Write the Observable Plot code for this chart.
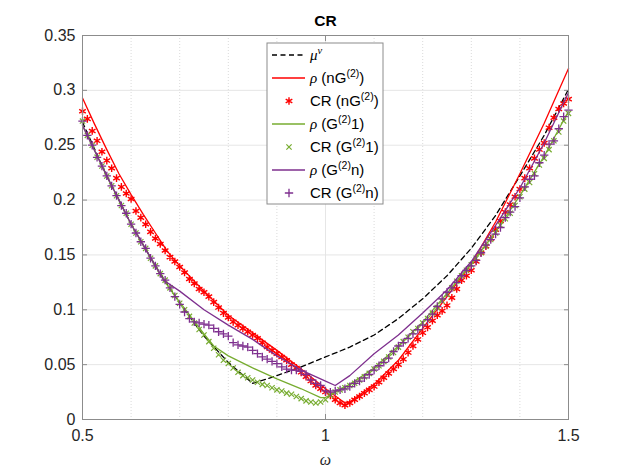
<!DOCTYPE html>
<html><head><meta charset="utf-8">
<script src="https://cdn.jsdelivr.net/npm/d3@7"></script>
<script src="https://cdn.jsdelivr.net/npm/@observablehq/plot@0.6"></script>
<style>
body{margin:0;background:#fff;}
#chart{position:relative;width:628px;height:471px;}
</style></head><body><div id="chart"></div>
<script>
// ---- data ----
const omega = [0.50,0.51,0.52,0.53,0.54,0.55,0.56,0.57,0.58,0.59,
0.60,0.61,0.62,0.63,0.64,0.65,0.66,0.67,0.68,0.69,
0.70,0.71,0.72,0.73,0.74,0.75,0.76,0.77,0.78,0.79,
0.80,0.81,0.82,0.83,0.84,0.85,0.86,0.87,0.88,0.89,
0.90,0.91,0.92,0.93,0.94,0.95,0.96,0.97,0.98,0.99,
1.00,1.01,1.02,1.03,1.04,1.05,1.06,1.07,1.08,1.09,
1.10,1.11,1.12,1.13,1.14,1.15,1.16,1.17,1.18,1.19,
1.20,1.21,1.22,1.23,1.24,1.25,1.26,1.27,1.28,1.29,
1.30,1.31,1.32,1.33,1.34,1.35,1.36,1.37,1.38,1.39,
1.40,1.41,1.42,1.43,1.44,1.45,1.46,1.47,1.48,1.49,1.50];

const crNG2 = [.281,.274,.263,.254,.244,.236,.229,.220,.212,.206,
.201,.190,.184,.178,.171,.165,.160,.154,.148,.144,
.139,.134,.128,.124,.119,.116,.112,.107,.102,.097,
.093,.089,.086,.083,.080,.077,.074,.070,.066,.063,
.060,.057,.054,.050,.047,.043,.039,.035,.031,.028,
.025,.022,.018,.015,.013,.015,.018,.021,.024,.027,
.030,.034,.038,.042,.046,.050,.055,.061,.067,.073,
.079,.084,.090,.095,.099,.104,.111,.119,.127,.131,
.136,.144,.152,.158,.165,.173,.181,.189,.196,.203,
.210,.220,.229,.238,.246,.252,.266,.275,.283,.288,.292];

const crG21 = [.272,.259,.250,.239,.231,.222,.213,.204,.195,.188,
.178,.170,.162,.156,.147,.140,.133,.127,.120,.113,
.106,.100,.094,.088,.082,.077,.071,.065,.059,.054,
.051,.047,.043,.040,.038,.036,.034,.032,.031,.029,
.027,.026,.024,.023,.021,.019,.017,.016,.015,.016,
.018,.022,.025,.027,.029,.031,.033,.036,.039,.042,
.046,.049,.053,.057,.061,.066,.071,.075,.080,.083,
.088,.092,.097,.102,.108,.114,.120,.126,.131,.136,
.141,.147,.152,.158,.164,.170,.177,.183,.188,.195,
.203,.210,.216,.224,.232,.238,.246,.254,.262,.272,.279];

const crG2n = [.272,.259,.250,.239,.231,.222,.213,.204,.195,.188,
.178,.170,.162,.156,.147,.140,.133,.127,.120,.112,
.105,.098,.092,.089,.088,.087,.086,.083,.080,.078,
.076,.070,.068,.067,.066,.063,.060,.057,.055,.053,
.051,.048,.046,.045,.045,.044,.041,.036,.033,.031,
.026,.025,.026,.027,.028,.030,.033,.035,.038,.041,
.045,.049,.052,.056,.062,.067,.070,.074,.078,.082,
.086,.091,.096,.103,.110,.116,.120,.125,.131,.136,
.140,.145,.152,.159,.164,.169,.175,.184,.189,.194,
.202,.212,.219,.222,.234,.241,.251,.254,.265,.276,.282];

const muX = [0.5,0.55,0.6,0.65,0.7,0.75,0.8,0.85,0.88,0.9,0.95,1.0,1.05,1.1,1.15,1.2,1.25,1.3,1.35,1.4,1.45,1.5];
const muNu = [.271,.222,.178,.140,.106,.076,.052,.033,.037,.040,.048,.057,.066,.077,.092,.110,.131,.156,.186,.222,.259,.301];

const rhoNG2X = [0.5,0.525,0.55,0.575,0.6,0.625,0.65,0.675,0.7,0.75,0.8,0.85,0.9,0.95,1.0,1.04,1.05,1.1,1.15,1.2,1.25,1.3,1.35,1.4,1.45,1.5];
const rhoNG2 = [.293,.269,.246,.224,.205,.187,.170,.153,.140,.117,.095,.079,.063,.046,.028,.015,.016,.032,.054,.083,.112,.142,.180,.224,.270,.320];

const rhoG21X = [0.5,0.55,0.6,0.667,0.7,0.75,0.77,0.8,0.85,0.9,0.95,0.99,1.0,1.02,1.05,1.1,1.15,1.2,1.25,1.3,1.35,1.4,1.45,1.5];
const rhoG21 = [.268,.222,.178,.127,.107,.078,.067,.058,.047,.037,.028,.020,.020,.025,.032,.047,.067,.089,.115,.142,.171,.204,.240,.281];

const rhoG2nX = [0.5,0.55,0.6,0.667,0.7,0.75,0.8,0.85,0.9,0.95,1.0,1.02,1.05,1.1,1.15,1.2,1.25,1.3,1.35,1.4,1.45,1.5];
const rhoG2n = [.268,.222,.178,.127,.117,.100,.086,.073,.058,.045,.035,.031,.040,.060,.077,.097,.118,.144,.177,.211,.252,.298];

const xTicks = [0.5, 1, 1.5];
const xMinor = [0.6,0.7,0.8,0.9,1.1,1.2,1.3,1.4];
const yTicks = [0,0.05,0.1,0.15,0.2,0.25,0.3,0.35];
const titleText = "CR";
const xLabel = "ω";

const RED = "#ff0000", GREEN = "#77ac30", PURPLE = "#7e2f8e";
const R_AST = 3.6, R_TIMES = 2.5, R_PLUS = 2.8;
const SANS = "'Liberation Sans', Arial, Helvetica, sans-serif";
const SERIF = "'Liberation Serif', 'DejaVu Serif', serif";

const plot = Plot.plot({
  width: 628, height: 471,
  marginLeft: 82, marginRight: 60, marginTop: 35, marginBottom: 52,
  style: {fontFamily: SANS, fontSize: "16px", color: "#262626", background: "#fff", overflow: "visible"},
  x: {domain: [0.5, 1.5]},
  y: {domain: [0, 0.35]},
  marks: [
    Plot.gridX(xMinor, {stroke: "#dadada", strokeOpacity: 1, strokeDasharray: "1,2"}),
    Plot.gridX(xTicks, {stroke: "#e6e6e6", strokeOpacity: 1}),
    Plot.gridY(yTicks, {stroke: "#e6e6e6", strokeOpacity: 1}),
    Plot.line(omega, {x: muX, y: muNu, stroke: "#000", strokeWidth: 1.3, strokeDasharray: "5,3.5"}),
    Plot.line(rhoNG2X, {x: rhoNG2X, y: rhoNG2, stroke: RED, strokeWidth: 1.3}),
    Plot.dot(omega, {x: omega, y: crNG2, symbol: "asterisk", r: R_AST, stroke: RED, strokeWidth: 1.4, fill: "none"}),
    Plot.line(rhoG21X, {x: rhoG21X, y: rhoG21, stroke: GREEN, strokeWidth: 1.3}),
    Plot.dot(omega, {x: omega, y: crG21, symbol: "times", r: R_TIMES, stroke: GREEN, strokeWidth: 1.2, fill: "none"}),
    Plot.line(rhoG2nX, {x: rhoG2nX, y: rhoG2n, stroke: PURPLE, strokeWidth: 1.3}),
    Plot.dot(omega, {x: omega, y: crG2n, symbol: "plus", r: R_PLUS, stroke: PURPLE, strokeWidth: 1.3, fill: "none"}),
    Plot.axisX(xTicks, {tickSize: -5, tickPadding: 15, stroke: "#8c8c8c", tickFormat: d => String(d), label: null}),
    Plot.axisX(xTicks, {anchor: "top", tickSize: -5, tickFormat: () => "", label: null, stroke: "#8c8c8c"}),
    Plot.axisY(yTicks, {tickSize: -5, tickPadding: 12, stroke: "#8c8c8c", tickFormat: d => String(d), label: null}),
    Plot.axisY(yTicks, {anchor: "right", tickSize: -5, tickFormat: () => "", label: null, stroke: "#8c8c8c"}),
    Plot.frame({stroke: "#8c8c8c"}),
    Plot.text([titleText], {frameAnchor: "top", lineAnchor: "middle", dy: -14, fontWeight: "bold", fontSize: 15.5, fill: "#000"}),
    Plot.text([xLabel], {frameAnchor: "bottom", lineAnchor: "middle", dy: 40, fontStyle: "italic", fontSize: 16, fill: "#262626", fontFamily: SERIF})
  ]
});
document.getElementById("chart").appendChild(plot);

// ---- legend ----
const legendRows = [
  {type: "line", color: "#000", dash: "5,3.5", parts: [["μ","g"],["ν","gs"]]},
  {type: "line", color: RED, parts: [["ρ","g"],[" (nG",""],["(2)","s"],[")",""]]},
  {type: "dot", color: RED, symbol: d3.symbolAsterisk, r: R_AST, sw: 1.4, parts: [["CR (nG",""],["(2)","s"],[")",""]]},
  {type: "line", color: GREEN, parts: [["ρ","g"],[" (G",""],["(2)","s"],["1)",""]]},
  {type: "dot", color: GREEN, symbol: d3.symbolTimes, r: R_TIMES, sw: 1.2, parts: [["CR (G",""],["(2)","s"],["1)",""]]},
  {type: "line", color: PURPLE, parts: [["ρ","g"],[" (G",""],["(2)","s"],["n)",""]]},
  {type: "dot", color: PURPLE, symbol: d3.symbolPlus, r: R_PLUS, sw: 1.3, parts: [["CR (G",""],["(2)","s"],["n)",""]]}
];

const svg = d3.select(plot);
const lg = svg.append("g").attr("transform", "translate(267,43)");
lg.append("rect").attr("x", 0).attr("y", 0).attr("width", 116).attr("height", 161)
  .attr("fill", "#fff").attr("stroke", "#8c8c8c").attr("stroke-width", 1);
legendRows.forEach((row, i) => {
  const cy = 12 + i * 23;
  if (row.type === "line") {
    lg.append("line").attr("x1", 5).attr("x2", 38).attr("y1", cy).attr("y2", cy)
      .attr("stroke", row.color).attr("stroke-width", 1.3)
      .attr("stroke-dasharray", row.dash || null);
  } else {
    lg.append("path").attr("transform", `translate(22,${cy})`)
      .attr("d", d3.symbol().type(row.symbol).size(Math.PI * row.r * row.r)())
      .attr("fill", "none").attr("stroke", row.color).attr("stroke-width", row.sw);
  }
  const t = lg.append("text").attr("x", 43).attr("y", cy + 5)
    .attr("text-anchor", "start")
    .attr("font-family", SANS)
    .attr("font-size", 15).attr("fill", "#000");
  let shift = 0;
  row.parts.forEach(([s, k]) => {
    const sup = k === "s" || k === "gs";
    const target = sup ? -6 : 0;
    const sp = t.append("tspan").text(s).attr("dy", target - shift);
    shift = target;
    if (sup) sp.attr("font-size", 10.5);
    if (k === "g" || k === "gs") sp.attr("font-style", "italic").attr("font-family", SERIF);
  });
});
</script>
</body></html>
